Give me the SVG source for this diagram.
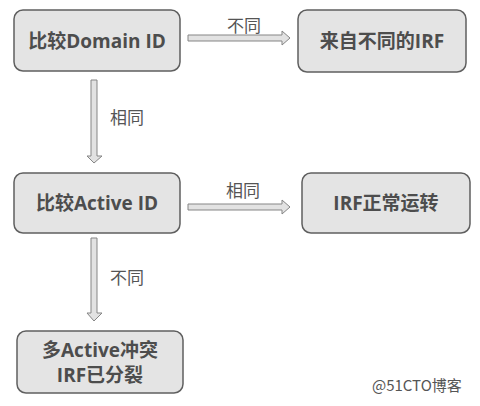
<svg xmlns="http://www.w3.org/2000/svg" width="480" height="406" viewBox="0 0 480 406">
<style>
.box{fill:#e4e4e4;stroke:#5f5f5f;stroke-width:1.5}
.bt{font-family:"Open Sans","Noto Sans CJK SC",sans-serif;font-weight:700;font-size:19px;fill:#4d4d4d;text-anchor:middle}
.lt{font-family:"Noto Sans CJK SC",sans-serif;font-size:17px;fill:#555;text-anchor:middle}
.arr{fill:#e2e2e2;stroke:#858585;stroke-width:1}
.wm{font-family:"Noto Sans CJK SC",sans-serif;font-size:15px;fill:#555}
</style>
<rect width="480" height="406" fill="#ffffff"/>
<g id="n1"><rect class="box" x="14" y="10" width="166" height="61" rx="9"/><text class="bt" x="97" y="48">比较Domain ID</text></g>
<g id="n2"><rect class="box" x="298" y="10" width="168" height="62" rx="9"/><text class="bt" x="382" y="48">来自不同的IRF</text></g>
<g id="n3"><rect class="box" x="14" y="173" width="166" height="60" rx="9"/><text class="bt" x="97" y="210">比较Active ID</text></g>
<g id="n4"><rect class="box" x="302" y="173" width="168" height="60" rx="9"/><text class="bt" x="386" y="210">IRF正常运转</text></g>
<g id="n5"><rect class="box" x="17" y="331" width="166" height="62" rx="9"/><text class="bt" x="100" y="357">多Active冲突</text><text class="bt" x="100" y="382">IRF已分裂</text></g>
<g id="connectors">
<polygon class="arr" points="188,35 282,35 282,31 290,38 282,45 282,41 188,41"/>
<text class="lt" x="244" y="32">不同</text>
<polygon class="arr" points="188,204 282,204 282,200 290,207 282,214 282,210 188,210"/>
<text class="lt" x="243" y="197">相同</text>
<polygon class="arr" points="91,80 97,80 97,156 102,156 94,163 87,156 91,156"/>
<text class="lt" x="127" y="124">相同</text>
<polygon class="arr" points="91,238 97,238 97,313 102,313 94,321 87,313 91,313"/>
<text class="lt" x="127" y="284">不同</text>
</g>
<text class="wm" x="372" y="391">@51CTO博客</text>
</svg>
